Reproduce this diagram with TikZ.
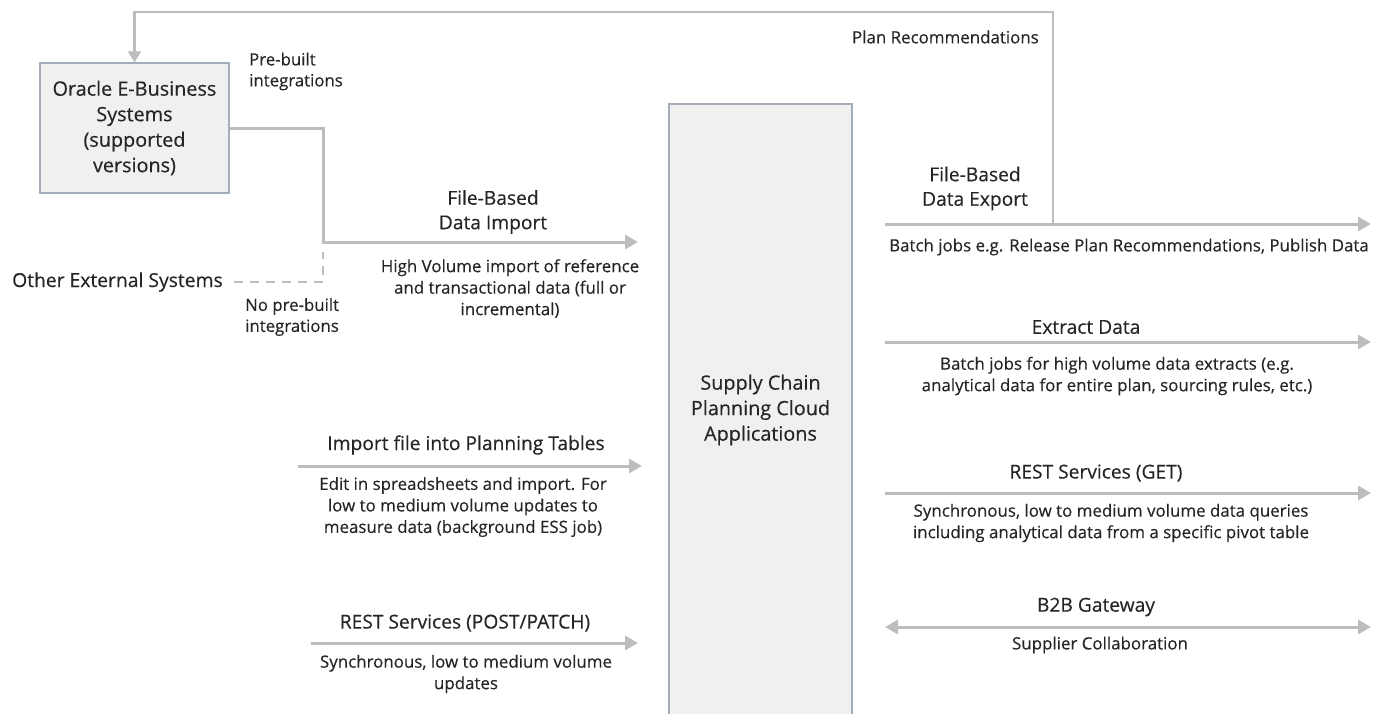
\documentclass[tikz,border=0pt]{standalone}
\usepackage{fontspec}
\setmainfont{Open Sans}[FakeBold=0.35]
\usetikzlibrary{arrows.meta}
\definecolor{txt}{HTML}{252525}
\definecolor{linec}{HTML}{BDBDBD}
\definecolor{boxfill}{HTML}{F0F0F0}
\definecolor{boxline}{HTML}{A3AEB8}
\begin{document}
\begin{tikzpicture}[x=1pt,y=-1pt,
 box/.style={draw=boxline, fill=boxfill, line width=1.5pt, text=txt, align=center, font=\fontsize{19.8}{25.5}\selectfont, inner sep=0pt},
 head/.style={text=txt, align=center, font=\fontsize{19.2}{24.5}\selectfont, inner sep=0pt},
 sub/.style={text=txt, align=center, font=\fontsize{16.9}{21.5}\selectfont, inner sep=0pt},
 side/.style={text=txt, align=left, font=\fontsize{16.8}{21}\selectfont, inner sep=0pt},
 conn/.style={draw=linec, line width=3pt, -{Triangle[length=13pt,width=14pt]}},
 conntwo/.style={draw=linec, line width=3pt, {Triangle[length=13pt,width=14pt]}-{Triangle[length=13pt,width=14pt]}},
 fb/.style={draw=linec, line width=2.2pt},
 dsh/.style={draw=linec, line width=2.2pt, dash pattern=on 9pt off 7pt},
]
\useasboundingbox (0,0) rectangle (1389,713);

% boxes
\node[box, minimum width=189pt, minimum height=130pt] (oracle) at (134.5,128) {Oracle E-Business\\Systems\\(supported\\versions)};
\node[box, minimum width=183pt, minimum height=612pt] (scp) at (760.5,410) {Supply Chain\\Planning Cloud\\Applications};

% side texts
\node[side, anchor=west] (prebuilt) at (249,71.5) {Pre-built\\integrations};
\node[text=txt, font=\fontsize{19.3}{22}\selectfont, anchor=west, inner sep=0pt] (other) at (12,282) {Other External Systems};
\node[side, anchor=west] (noprebuilt) at (245,317) {No pre-built\\integrations};

% coordinates for connector ends
\coordinate (impknee) at (323,242);
\coordinate (impend) at (638,242);
\coordinate (dend) at (323,252);
\coordinate (ifs) at (298,466);
\coordinate (ife) at (642,466);
\coordinate (rps) at (311,643);
\coordinate (rpe) at (638,643);
\coordinate (exs) at (885,224);
\coordinate (exe) at (1371,224);
\coordinate (expj) at (1053,224);
\coordinate (topr) at (1053,12);
\coordinate (ets) at (885,342);
\coordinate (ete) at (1371,342);
\coordinate (gts) at (885,493);
\coordinate (gte) at (1371,493);
\coordinate (bbs) at (885,627);
\coordinate (bbe) at (1371,627);

% connectors
\draw[fb, -{Triangle[length=11pt,width=13pt]}] (expj) -- (topr) -| (oracle.north);
\draw[conn] (oracle.east) -| (impknee) -- (impend);
\draw[dsh] ([xshift=11pt]other.east) -| (dend);
\draw[conn] (ifs) -- (ife);
\draw[conn] (rps) -- (rpe);
\draw[conn] (exs) -- (exe);
\draw[conn] (ets) -- (ete);
\draw[conn] (gts) -- (gte);
\draw[conntwo] (bbs) -- (bbe);

% left labels
\node[head] (fbimp) at (493,212) {File-Based\\Data Import};
\node[sub] (fbimpsub) at (510,288.5) {High Volume import of reference\\and transactional data (full or\\incremental)};
\node[head] (iflab) at (466,445) {Import file into Planning Tables};
\node[sub] (ifsub) at (463,507) {Edit in spreadsheets and import. For\\low to medium volume updates to\\measure data (background ESS job)};
\node[head] (rplab) at (465,623) {REST Services (POST/PATCH)};
\node[sub] (rpsub) at (466,674) {Synchronous, low to medium volume\\updates};

% right labels
\node[sub, anchor=east] (planrec) at (1039,37) {Plan Recommendations};
\node[head] (fbexp) at (975,188.5) {File-Based\\Data Export};
\node[sub] (fbexpsub) at (1129,247) {Batch jobs e.g. Release Plan Recommendations, Publish Data};
\node[head] (exlab) at (1086,327) {Extract Data};
\node[sub] (exsub) at (1117,376) {Batch jobs for high volume data extracts (e.g.\\analytical data for entire plan, sourcing rules, etc.)};
\node[head] (getlab) at (1096,473) {REST Services (GET)};
\node[sub] (getsub) at (1111,523) {Synchronous, low to medium volume data queries\\including analytical data from a specific pivot table};
\node[head] (bblab) at (1096,607) {B2B Gateway};
\node[sub] (bbsub) at (1100,645) {Supplier Collaboration};
\end{tikzpicture}
\end{document}
